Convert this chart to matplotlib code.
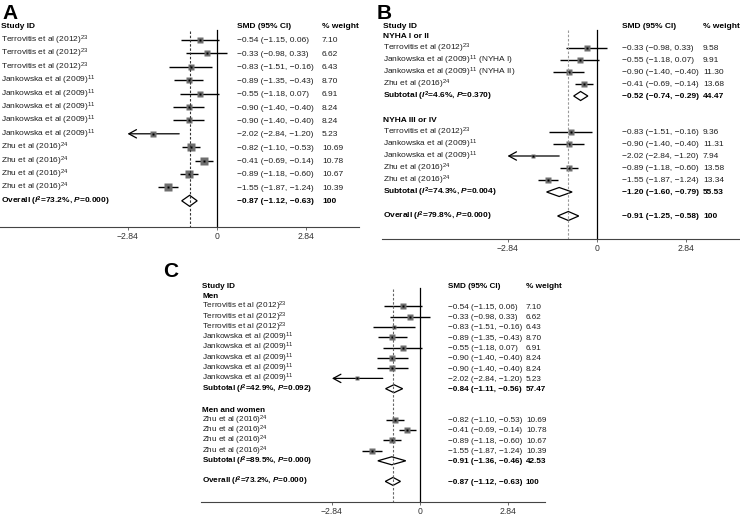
import matplotlib
matplotlib.use("Agg")
import matplotlib.pyplot as plt
from matplotlib.patches import Polygon

plt.rcParams['font.family'] = ['Liberation Sans', 'DejaVu Sans']
plt.rcParams['mathtext.fontset'] = 'custom'
plt.rcParams['mathtext.rm'] = 'Liberation Sans'
plt.rcParams['mathtext.it'] = 'Liberation Sans:italic'
plt.rcParams['mathtext.bf'] = 'Liberation Sans:bold'
plt.rcParams['mathtext.bfit'] = 'Liberation Sans:italic:bold'

# ---------------- data ----------------
# Panel A
a_names = ["Terrovitis et al (2012)"] * 3 + ["Jankowska et al (2009)"] * 5 + ["Zhu et al (2016)"] * 4
a_refs = ["23"] * 3 + ["11"] * 5 + ["24"] * 4
a_smd = [-0.54, -0.33, -0.83, -0.89, -0.55, -0.90, -0.90, -2.02, -0.82, -0.41, -0.89, -1.55]
a_lo = [-1.15, -0.98, -1.51, -1.35, -1.18, -1.40, -1.40, -2.84, -1.10, -0.69, -1.18, -1.87]
a_hi = [0.06, 0.33, -0.16, -0.43, 0.07, -0.40, -0.40, -1.20, -0.53, -0.14, -0.60, -1.24]
a_wt = [7.10, 6.62, 6.43, 8.70, 6.91, 8.24, 8.24, 5.23, 10.69, 10.78, 10.67, 10.39]
a_overall = [-0.87, -1.12, -0.63]
a_overall_i2, a_overall_p = "73.2", "0.000"

# Panel B
b_groups = ["NYHA I or II", "NYHA III or IV"]
b1_names = ["Terrovitis et al (2012)", "Jankowska et al (2009)", "Jankowska et al (2009)", "Zhu et al (2016)"]
b1_refs = ["23", "11", "11", "24"]
b1_suffix = ["", " (NYHA I)", " (NYHA II)", ""]
b1_smd = [-0.33, -0.55, -0.90, -0.41]
b1_lo = [-0.98, -1.18, -1.40, -0.69]
b1_hi = [0.33, 0.07, -0.40, -0.14]
b1_wt = [9.58, 9.91, 11.30, 13.68]
b1_sub = [-0.52, -0.74, -0.29]
b1_sub_i2, b1_sub_p, b1_sub_wt = "4.6", "0.370", 44.47
b2_names = ["Terrovitis et al (2012)", "Jankowska et al (2009)", "Jankowska et al (2009)",
            "Zhu et al (2016)", "Zhu et al (2016)"]
b2_refs = ["23", "11", "11", "24", "24"]
b2_smd = [-0.83, -0.90, -2.02, -0.89, -1.55]
b2_lo = [-1.51, -1.40, -2.84, -1.18, -1.87]
b2_hi = [-0.16, -0.40, -1.20, -0.60, -1.24]
b2_wt = [9.36, 11.31, 7.94, 13.58, 13.34]
b2_sub = [-1.20, -1.60, -0.79]
b2_sub_i2, b2_sub_p, b2_sub_wt = "74.3", "0.004", 55.53
b_overall = [-0.91, -1.25, -0.58]
b_overall_i2, b_overall_p = "79.8", "0.000"

# Panel C
c_groups = ["Men", "Men and women"]
c1_names, c1_refs = a_names[:8], a_refs[:8]
c1_smd, c1_lo, c1_hi, c1_wt = a_smd[:8], a_lo[:8], a_hi[:8], a_wt[:8]
c1_sub = [-0.84, -1.11, -0.56]
c1_sub_i2, c1_sub_p, c1_sub_wt = "42.9", "0.092", 57.47
c2_names, c2_refs = a_names[8:], a_refs[8:]
c2_smd, c2_lo, c2_hi, c2_wt = a_smd[8:], a_lo[8:], a_hi[8:], a_wt[8:]
c2_sub = [-0.91, -1.36, -0.46]
c2_sub_i2, c2_sub_p, c2_sub_wt = "89.5", "0.000", 42.53
c_overall = [-0.87, -1.12, -0.63]
c_overall_i2, c_overall_p = "73.2", "0.000"

x_ticks = [-2.84, 0, 2.84]
x_ticklabels = ["\u22122.84", "0", "2.84"]

# ---------------- helpers ----------------
W, H = 740, 515
fig = plt.figure(figsize=(W / 100, H / 100), dpi=100)
TXT = "#1e1e1e"


def fmt(v):
    return f"{v:.2f}".replace("-", "\u2212")


def ci_text(e, l, h):
    return f"{fmt(e)} ({fmt(l)}, {fmt(h)})"


def stat_label(kind, i2, p):
    return kind + r" ($\mathbfit{I}^{\mathbf{2}}$=" + i2 + r"%, $\mathbfit{P}$=" + p + ")"


def study_label(name, ref, suffix=""):
    return name + r"$^{\mathrm{" + ref + r"}}$" + suffix


class Panel:
    def __init__(self, left, right, top, axis_y, zero, scale, cols, dash_color, dash_top, zero_top,
                 box_max, fs=6.0):
        self.ax = fig.add_axes([left / W, 1 - axis_y / H, (right - left) / W, (axis_y - top) / H])
        ax = self.ax
        self.fs = fs
        ax.set_xlim((left - zero) / scale, (right - zero) / scale)
        ax.set_ylim(axis_y, top)
        ax.patch.set_visible(False)
        for s in ["top", "right", "left"]:
            ax.spines[s].set_visible(False)
        ax.spines["bottom"].set_color("#444444")
        ax.spines["bottom"].set_linewidth(0.8)
        ax.set_yticks([])
        ax.set_xticks(x_ticks)
        ax.set_xticklabels(x_ticklabels)
        ax.tick_params(axis="x", length=2.5, width=0.6, color="#555555", labelsize=6.2,
                       labelcolor="#333333", pad=1.2)
        self.lab_x = (left + 1 - zero) / scale
        self.ci_x = (cols[0] - zero) / scale
        self.wt_x = (cols[1] - zero) / scale
        self.axis_y = axis_y
        self.box_max = box_max
        self.dash_color = dash_color
        self.dash_top = dash_top
        self.zero_top = zero_top

    def text(self, x, y, s, bold=False):
        self.ax.text(x, y + 2.5, s, fontsize=self.fs, color=TXT if not bold else "black",
                     fontweight="bold" if bold else "normal", va="baseline", ha="left",
                     clip_on=False)

    def header(self, y):
        self.text(self.lab_x, y, "Study ID", True)
        self.text(self.ci_x, y, "SMD (95% CI)", True)
        self.text(self.wt_x, y, "% weight", True)

    def study(self, y, label, e, l, h, w, wmax):
        ax = self.ax
        self.text(self.lab_x, y, label)
        self.text(self.ci_x, y, ci_text(e, l, h))
        self.text(self.wt_x, y, f"{w:.2f}")
        if l <= -x_ticks[-1]:
            ax.annotate("", xy=(l, y), xytext=(h, y),
                        arrowprops=dict(arrowstyle="->,head_length=0.55,head_width=0.3",
                                        color="black", lw=0.9, shrinkA=0, shrinkB=0))
        else:
            ax.plot([l, h], [y, y], color="black", lw=1.0, solid_capstyle="butt", zorder=3)
        ms = self.box_max * (w / wmax) ** 0.5
        ax.plot([e], [y], marker="s", ms=ms, color="#6e6e6e", mec="none", zorder=4)
        ax.plot([e], [y], marker="s", ms=1.8, color="black", mec="none", zorder=5)

    def diamond(self, y, e, l, h, half):
        poly = Polygon([[l, y], [e, y - half], [h, y], [e, y + half]], closed=True,
                       facecolor="white", edgecolor="black", lw=0.9, zorder=4)
        self.ax.add_patch(poly)

    def summary(self, y, label, e, l, h, w, half):
        self.text(self.lab_x, y, label, True)
        self.text(self.ci_x, y, ci_text(e, l, h), True)
        self.text(self.wt_x, y, f"{w:.2f}" if w != 100 else "100", True)
        self.diamond(y, e, l, h, half)

    def lines(self, est):
        ax = self.ax
        ax.plot([0, 0], [self.zero_top, self.axis_y], color="black", lw=0.9, zorder=2)
        ax.plot([est, est], [self.dash_top, self.axis_y], color=self.dash_color, lw=0.8,
                dashes=(2.2, 1.6), zorder=6)


# ---------------- Panel A ----------------
pA = Panel(left=0, right=359, top=0, axis_y=227, zero=217, scale=31.5, cols=(237, 322),
           dash_color="#333333", dash_top=31, zero_top=30, box_max=5.2)
pA.header(25)
y0, dy = 40, 13.4
wmaxA = max(a_wt)
for i in range(len(a_smd)):
    pA.study(y0 + i * dy, study_label(a_names[i], a_refs[i]), a_smd[i], a_lo[i], a_hi[i], a_wt[i], wmaxA)
pA.summary(y0 + len(a_smd) * dy, stat_label("Overall", a_overall_i2, a_overall_p),
           *a_overall, 100, 5.5)
pA.lines(a_overall[0])
fig.text(2 / W, 1 - 19 / H, "A", fontsize=15, fontweight="bold", va="baseline")

# ---------------- Panel B ----------------
pB = Panel(left=382, right=740, top=0, axis_y=239, zero=597, scale=31.5, cols=(622, 703),
           dash_color="#9a9a9a", dash_top=30, zero_top=30, box_max=4.6)
pB.header(25)
y0, dy = 36, 12.0
wmaxB = max(b1_wt + b2_wt)
r = 0
pB.text(pB.lab_x, y0 + r * dy, b_groups[0], True)
r += 1
for i in range(len(b1_smd)):
    pB.study(y0 + r * dy, study_label(b1_names[i], b1_refs[i], b1_suffix[i]),
             b1_smd[i], b1_lo[i], b1_hi[i], b1_wt[i], wmaxB)
    r += 1
pB.summary(y0 + r * dy, stat_label("Subtotal", b1_sub_i2, b1_sub_p), *b1_sub, b1_sub_wt, 4.5)
r += 2
pB.text(pB.lab_x, y0 + r * dy, b_groups[1], True)
r += 1
for i in range(len(b2_smd)):
    pB.study(y0 + r * dy, study_label(b2_names[i], b2_refs[i]),
             b2_smd[i], b2_lo[i], b2_hi[i], b2_wt[i], wmaxB)
    r += 1
pB.summary(y0 + r * dy, stat_label("Subtotal", b2_sub_i2, b2_sub_p), *b2_sub, b2_sub_wt, 4.5)
r += 2
pB.summary(y0 + r * dy, stat_label("Overall", b_overall_i2, b_overall_p), *b_overall, 100, 4.5)
pB.lines(b_overall[0])
fig.text(377 / W, 1 - 19 / H, "B", fontsize=15, fontweight="bold", va="baseline")

# ---------------- Panel C ----------------
pC = Panel(left=201, right=545, top=260, axis_y=502, zero=420, scale=31.0, cols=(448, 526),
           dash_color="#666666", dash_top=289, zero_top=288, box_max=4.6, fs=5.9)
pC.header(285)
y0, dy = 296, 10.3
wmaxC = max(a_wt)
r = 0
pC.text(pC.lab_x, y0 + r * dy, c_groups[0], True)
r += 1
for i in range(len(c1_smd)):
    pC.study(y0 + r * dy, study_label(c1_names[i], c1_refs[i]),
             c1_smd[i], c1_lo[i], c1_hi[i], c1_wt[i], wmaxC)
    r += 1
pC.summary(y0 + r * dy, stat_label("Subtotal", c1_sub_i2, c1_sub_p), *c1_sub, c1_sub_wt, 4.0)
r += 2
pC.text(pC.lab_x, y0 + r * dy, c_groups[1], True)
r += 1
for i in range(len(c2_smd)):
    pC.study(y0 + r * dy, study_label(c2_names[i], c2_refs[i]),
             c2_smd[i], c2_lo[i], c2_hi[i], c2_wt[i], wmaxC)
    r += 1
pC.summary(y0 + r * dy, stat_label("Subtotal", c2_sub_i2, c2_sub_p), *c2_sub, c2_sub_wt, 4.0)
r += 2
pC.summary(y0 + r * dy, stat_label("Overall", c_overall_i2, c_overall_p), *c_overall, 100, 4.0)
pC.lines(c_overall[0])
fig.text(163 / W, 1 - 277 / H, "C", fontsize=15, fontweight="bold", va="baseline")

fig.savefig("out.png", dpi=100)
